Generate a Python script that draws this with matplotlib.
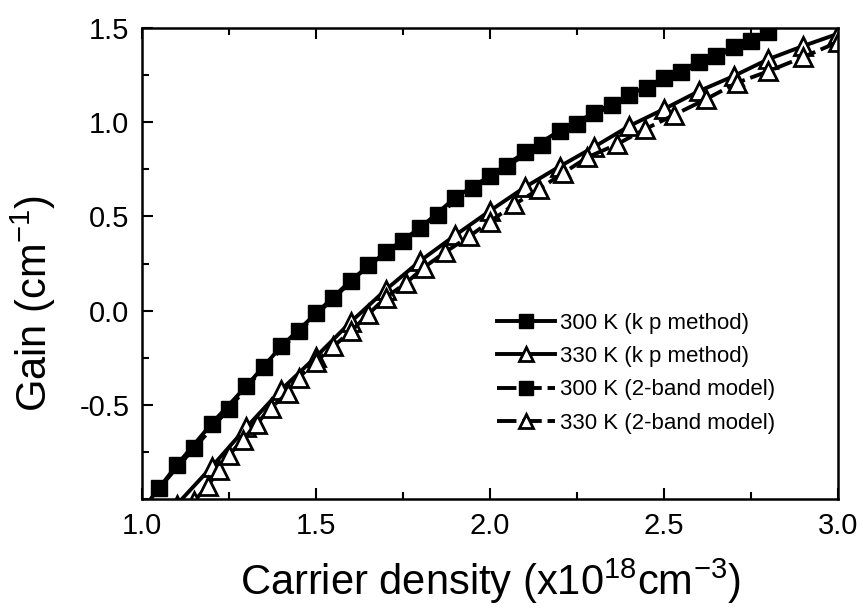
import matplotlib
matplotlib.use("Agg")
import matplotlib.pyplot as plt
from matplotlib.ticker import MultipleLocator

plt.rcParams['font.family'] = ['Liberation Sans', 'DejaVu Sans']
plt.rcParams['mathtext.fontset'] = 'custom'
plt.rcParams['mathtext.rm'] = 'Liberation Sans'
plt.rcParams['mathtext.it'] = 'Liberation Sans'

# 300 K, k.p method
x_300_kp = [1.00, 1.10, 1.20, 1.30, 1.40, 1.50, 1.60, 1.70, 1.80, 1.90,
            2.00, 2.10, 2.20, 2.30, 2.40, 2.50, 2.60, 2.70, 2.80]
g_300_kp = [-1.06, -0.82, -0.60, -0.40, -0.19, -0.015, 0.16, 0.31, 0.44, 0.60,
            0.715, 0.84, 0.955, 1.05, 1.145, 1.235, 1.32, 1.40, 1.48]

# 300 K, 2-band model
x_300_2b = [1.05, 1.15, 1.25, 1.35, 1.45, 1.55, 1.65, 1.75, 1.85, 1.95,
            2.05, 2.15, 2.25, 2.35, 2.45, 2.55, 2.65, 2.75]
g_300_2b = [-0.94, -0.73, -0.52, -0.30, -0.11, 0.065, 0.24, 0.37, 0.51, 0.65,
            0.77, 0.88, 0.99, 1.09, 1.18, 1.265, 1.35, 1.43]

# 330 K, k.p method
x_330_kp = [1.10, 1.20, 1.30, 1.40, 1.50, 1.60, 1.70, 1.80, 1.90, 2.00,
            2.10, 2.20, 2.30, 2.40, 2.50, 2.60, 2.70, 2.80, 2.90, 3.00]
g_330_kp = [-1.03, -0.83, -0.62, -0.42, -0.245, -0.06, 0.11, 0.265, 0.40, 0.53,
            0.655, 0.765, 0.87, 0.98, 1.07, 1.165, 1.245, 1.335, 1.405, 1.47]

# 330 K, 2-band model
x_330_2b = [1.15, 1.19, 1.22, 1.25, 1.29, 1.33, 1.37, 1.42, 1.45, 1.50,
            1.55, 1.60, 1.65, 1.70, 1.76, 1.81, 1.87, 1.94, 2.00, 2.07,
            2.14, 2.21, 2.28, 2.365, 2.445, 2.53, 2.62, 2.71, 2.80, 2.90, 3.00]
g_330_2b = [-1.01, -0.93, -0.846, -0.766, -0.686, -0.60, -0.516, -0.436, -0.356, -0.27,
            -0.19, -0.11, -0.02, 0.069, 0.149, 0.229, 0.309, 0.394, 0.473, 0.564,
            0.644, 0.73, 0.814, 0.883, 0.963, 1.04, 1.122, 1.21, 1.271, 1.346, 1.426]

labels = ["300 K (k p method)", "330 K (k p method)",
          "300 K (2-band model)", "330 K (2-band model)"]
xticks = [1.0, 1.5, 2.0, 2.5, 3.0]
yticks = [-0.5, 0.0, 0.5, 1.0, 1.5]

fig = plt.figure(figsize=(8.63, 6.11), dpi=100)
ax = fig.add_axes([0.1645, 0.1833, 0.8065, 0.7707])

dash = (0, (5, 1.5))
ax.plot(x_300_kp, g_300_kp, color='black', lw=2.8, marker='s', ms=12,
        mfc='black', mec='black', label=labels[0])
ax.plot(x_330_kp, g_330_kp, color='black', lw=2.8, marker='^', ms=13,
        mfc='white', mec='black', mew=2.0, label=labels[1])
ax.plot(x_300_2b, g_300_2b, color='black', lw=2.8, ls=dash, marker='s', ms=12,
        mfc='black', mec='black', label=labels[2])
ax.plot(x_330_2b, g_330_2b, color='black', lw=2.8, ls=dash, marker='^', ms=13,
        mfc='white', mec='black', mew=2.0, label=labels[3])

ax.set_xlim(1.0, 3.0)
ax.set_ylim(-1.0, 1.5)
ax.xaxis.set_minor_locator(MultipleLocator(0.25))
ax.yaxis.set_minor_locator(MultipleLocator(0.25))
ax.set_yticks(yticks)
ax.set_yticklabels([f"{v:.1f}" for v in yticks], fontsize=21)
ax.set_xticks(xticks)
ax.set_xticklabels([f"{v:.1f}" for v in xticks], fontsize=21)
ax.tick_params(which='both', direction='in', top=True, right=False, width=1.5)
ax.tick_params(which='major', length=8)
ax.tick_params(which='minor', length=5)
ax.tick_params(axis='y', pad=9)
ax.tick_params(axis='x', pad=9)
for s in ax.spines.values():
    s.set_linewidth(1.8)

ax.set_xlabel(r"Carrier density (x10$^{18}$cm$^{-3}$)", fontsize=30, labelpad=12)
ax.set_ylabel(r"Gain (cm$^{-1}$)", fontsize=30)
ax.yaxis.set_label_coords(-0.12, 0.414)

ax.legend(loc='center left', bbox_to_anchor=(0.482, 0.267), frameon=False,
          fontsize=16, handlelength=2.6, handletextpad=0.2, labelspacing=0.55,
          markerscale=0.8)

plt.savefig("out.png", dpi=100)
